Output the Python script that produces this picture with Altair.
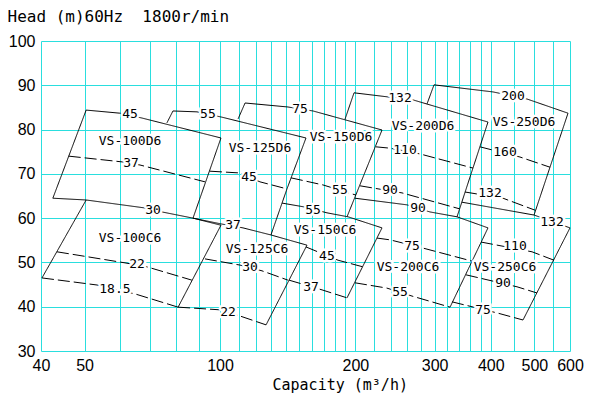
import altair as alt
import pandas as pd

# ---------------- axes ----------------
grid_q = [40, 50, 60, 70, 80, 90, 100, 110, 120, 130, 140, 150, 160, 170, 180, 190, 200,
          220, 240, 260, 280, 300, 320, 340, 360, 380, 400, 450, 500, 550, 600]
label_q = [40, 50, 100, 200, 300, 400, 500, 600]
grid_h = [30, 40, 50, 60, 70, 80, 90, 100]

# ---------------- curves (Q m3/h, H m) ----------------
# VS-100D6 / VS-100C6
vs100d6_top = [(50.4, 84.4), (59.9, 83.7), (67.1, 82.6), (100.5, 78.1)]
vs100d6_left = [(50.4, 84.4), (42.5, 64.5)]
vs100d6_right = [(100.5, 78.1), (87.1, 60.0)]
vs100d6_mid = [(46.1, 74.0), (60.6, 72.7), (66.4, 72.0), (92.6, 68.2)]
vs100_30 = [(42.5, 64.5), (50.4, 64.1), (68.1, 62.3), (74.3, 61.4), (87.1, 60.0), (100.5, 58.4)]
vs100c6_left = [(50.4, 64.1), (40.2, 46.5)]
vs100c6_right = [(100.5, 58.4), (80.7, 39.9)]
vs100c6_mid = [(43.4, 52.4), (61.5, 49.9), (68.8, 49.0), (86.6, 46.0)]
vs100c6_bot = [(40.2, 46.5), (53.3, 44.9), (64.7, 42.9), (80.7, 39.9)]

# VS-125D6 / VS-125C6
vs125d6_top = [(78.6, 84.2), (88.9, 84.0), (101.0, 82.8), (155.3, 78.1)]
vs125d6_left = [(78.6, 84.2), (76.2, 81.5)]
vs125d6_right = [(155.3, 78.1), (140.9, 66.6), (129.8, 56.2)]
vs125d6_mid = [(95.0, 70.6), (110.8, 70.2), (122.7, 68.2), (140.9, 66.6)]
vs125_37 = [(87.1, 60.0), (100.5, 58.7), (112.5, 57.8), (129.8, 56.2), (156.1, 53.9)]
vs125c6_right = [(156.1, 53.9), (126.6, 35.9)]
vs125c6_mid = [(92.6, 50.8), (110.8, 49.4), (124.0, 48.1), (141.6, 46.0)]
vs125c6_bot = [(80.7, 39.9), (100.0, 39.3), (110.8, 37.9), (126.6, 35.9)]

# VS-150D6 / VS-150C6
vs150d6_top = [(113.7, 86.0), (141.6, 85.1), (161.0, 84.2), (229.2, 79.9)]
vs150d6_left = [(113.7, 86.0), (109.7, 82.4)]
vs150d6_right = [(229.2, 79.9), (191.6, 60.3)]
vs150d6_mid = [(143.8, 69.1), (169.4, 67.5), (200.6, 65.2)]
vs150_55 = [(137.4, 63.4), (154.5, 62.5), (172.9, 61.2), (192.6, 60.3), (229.2, 57.8)]
vs150c6_right = [(229.2, 57.8), (191.6, 42.0)]
vs150c6_mid = [(155.3, 53.5), (183.0, 50.5), (207.9, 49.0)]
vs150c6_bot = [(142.4, 46.0), (168.6, 43.8), (191.6, 42.0)]

# VS-200D6 / VS-200C6
vs200d6_top = [(198.6, 88.3), (235.1, 87.4), (268.6, 86.7), (394.3, 81.7)]
vs200d6_left = [(198.6, 88.3), (189.6, 82.3)]
vs200d6_right = [(394.3, 81.7), (336.5, 60.3)]
vs200d6_mid1 = [(222.2, 76.1), (238.8, 75.8), (278.4, 74.5), (365.2, 71.3)]
vs200d6_mid2 = [(204.8, 67.3), (253.9, 65.7), (341.0, 62.1)]
vs200_90 = [(199.6, 64.5), (260.5, 63.0), (293.0, 61.4), (336.5, 60.3), (394.3, 57.8)]
vs200c6_right = [(394.3, 57.8), (324.7, 39.9)]
vs200c6_mid = [(223.4, 55.5), (238.8, 55.1), (281.3, 53.3), (363.3, 50.3)]
vs200c6_bot = [(199.6, 45.4), (235.1, 44.2), (267.3, 42.4), (324.7, 39.9)]

# VS-250D6 / VS-250C6
vs250d6_top = [(299.1, 90.1), (404.6, 88.5), (481.5, 86.9), (593.9, 83.7)]
vs250d6_left = [(299.1, 90.1), (288.6, 85.8)]
vs250d6_right = [(593.9, 83.7), (499.1, 60.7)]
vs250d6_mid1 = [(378.5, 76.1), (464.5, 73.8), (541.6, 71.5)]
vs250d6_mid2 = [(350.5, 65.9), (425.8, 64.5), (501.6, 61.8)]
vs250_132 = [(345.2, 63.6), (499.1, 60.7), (600.0, 57.8)]
vs250c6_right = [(600.0, 57.8), (471.7, 37.0)]
vs250c6_mid1 = [(380.5, 54.6), (494.0, 52.4), (552.8, 50.5)]
vs250c6_mid2 = [(352.4, 47.2), (457.4, 44.5), (506.8, 43.1)]
vs250c6_bot = [(328.0, 41.1), (413.0, 38.6), (471.7, 37.0)]

# ---------------- labels ----------------
model_names = ["VS-100D6", "VS-100C6", "VS-125D6", "VS-125C6", "VS-150D6",
               "VS-150C6", "VS-200D6", "VS-200C6", "VS-250D6", "VS-250C6"]
model_q = [63.1, 63.1, 122.7, 120.9, 185.8, 171.2, 282.7, 261.8, 474.2, 430.2]
model_h = [77.4, 55.5, 75.8, 53.0, 78.3, 57.3, 80.8, 49.0, 81.7, 49.0]

kw_text = ["45", "37", "30", "22", "18.5",
           "55", "45", "37", "30", "22",
           "75", "55", "55", "45", "37",
           "132", "110", "90", "90", "75", "55",
           "200", "160", "132", "132", "110", "90", "75"]
kw_q = [63.1, 63.4, 71.0, 65.4, 58.4,
        94.0, 116.0, 106.9, 116.6, 104.2,
        150.6, 184.8, 161.0, 172.9, 159.4,
        251.3, 257.8, 238.8, 275.6, 267.3, 251.3,
        448.2, 430.2, 398.4, 547.2, 452.8, 425.8, 384.4]
kw_h = [83.5, 72.5, 61.8, 49.6, 44.0,
        83.5, 69.3, 58.4, 49.0, 38.8,
        84.6, 66.4, 61.8, 51.5, 44.5,
        87.1, 75.3, 66.4, 62.3, 53.7, 43.3,
        87.6, 74.9, 65.7, 59.1, 53.7, 45.4, 39.3]

curves = [
    ("vs100d6_top", "solid", vs100d6_top), ("vs100d6_left", "solid", vs100d6_left),
    ("vs100d6_right", "solid", vs100d6_right), ("vs100d6_mid", "dashed", vs100d6_mid),
    ("vs100_30", "solid", vs100_30), ("vs100c6_left", "solid", vs100c6_left),
    ("vs100c6_right", "solid", vs100c6_right), ("vs100c6_mid", "dashed", vs100c6_mid),
    ("vs100c6_bot", "dashed", vs100c6_bot),
    ("vs125d6_top", "solid", vs125d6_top), ("vs125d6_left", "solid", vs125d6_left),
    ("vs125d6_right", "solid", vs125d6_right), ("vs125d6_mid", "dashed", vs125d6_mid),
    ("vs125_37", "solid", vs125_37), ("vs125c6_right", "solid", vs125c6_right),
    ("vs125c6_mid", "dashed", vs125c6_mid), ("vs125c6_bot", "dashed", vs125c6_bot),
    ("vs150d6_top", "solid", vs150d6_top), ("vs150d6_left", "solid", vs150d6_left),
    ("vs150d6_right", "solid", vs150d6_right), ("vs150d6_mid", "dashed", vs150d6_mid),
    ("vs150_55", "solid", vs150_55), ("vs150c6_right", "solid", vs150c6_right),
    ("vs150c6_mid", "dashed", vs150c6_mid), ("vs150c6_bot", "dashed", vs150c6_bot),
    ("vs200d6_top", "solid", vs200d6_top), ("vs200d6_left", "solid", vs200d6_left),
    ("vs200d6_right", "solid", vs200d6_right), ("vs200d6_mid1", "dashed", vs200d6_mid1),
    ("vs200d6_mid2", "dashed", vs200d6_mid2), ("vs200_90", "solid", vs200_90),
    ("vs200c6_right", "solid", vs200c6_right), ("vs200c6_mid", "dashed", vs200c6_mid),
    ("vs200c6_bot", "dashed", vs200c6_bot),
    ("vs250d6_top", "solid", vs250d6_top), ("vs250d6_left", "solid", vs250d6_left),
    ("vs250d6_right", "solid", vs250d6_right), ("vs250d6_mid1", "dashed", vs250d6_mid1),
    ("vs250d6_mid2", "dashed", vs250d6_mid2), ("vs250_132", "solid", vs250_132),
    ("vs250c6_right", "solid", vs250c6_right), ("vs250c6_mid1", "dashed", vs250c6_mid1),
    ("vs250c6_mid2", "dashed", vs250c6_mid2), ("vs250c6_bot", "dashed", vs250c6_bot),
]

rows = []
for name, style, pts in curves:
    for i, (q, h) in enumerate(pts):
        rows.append({"curve": name, "style": style, "i": i, "q": q, "h": h})
lines_df = pd.DataFrame(rows)

labels_df = pd.DataFrame(
    {"t": model_names + kw_text, "q": model_q + kw_q, "h": model_h + kw_h}
)

MONO = "DejaVu Sans Mono"
SANS = "Liberation Sans"
GRID = "#2adede"

label_expr = "indexof([" + ",".join(str(v) for v in label_q) + "], datum.value) >= 0 ? datum.label : ''"

xenc = alt.X(
    "q:Q",
    scale=alt.Scale(type="log", domain=[40, 600], nice=False),
    axis=alt.Axis(
        values=grid_q, labelExpr=label_expr, grid=True, gridColor=GRID, gridOpacity=1,
        gridWidth=1, domain=False, ticks=False, labelFont=SANS, labelFontSize=16,
        labelColor="black", labelPadding=6, labelFlush=False, labelOverlap=False,
        title="Capacity (m\u00b3/h)", titleFont=MONO, titleFontSize=15,
        titleFontWeight="normal", titleColor="black", titleX=231, titleY=38,
        titleAlign="left", titleBaseline="alphabetic",
    ),
)
yenc = alt.Y(
    "h:Q",
    scale=alt.Scale(domain=[30, 100], nice=False, zero=False),
    axis=alt.Axis(
        values=grid_h, grid=True, gridColor=GRID, gridOpacity=1, gridWidth=1,
        domain=False, ticks=False, labelFont=SANS, labelFontSize=16,
        labelColor="black", labelPadding=6, labelOverlap=False,
        title="Head (m)60Hz\u00a0 1800r/min", titleFont=MONO, titleFontSize=16,
        titleFontWeight="normal", titleColor="black", titleAngle=0,
        titleX=-34, titleY=-20, titleAlign="left", titleBaseline="alphabetic",
    ),
)

lines = alt.Chart(lines_df).mark_line(color="black", strokeWidth=1).encode(
    x=xenc, y=yenc, detail="curve:N", order="i:Q",
    strokeDash=alt.StrokeDash(
        "style:N",
        scale=alt.Scale(domain=["solid", "dashed"], range=[[1, 0], [12, 4]]),
        legend=None,
    ),
)

halo = alt.Chart(labels_df).mark_text(
    font=MONO, fontSize=13, fill="white", stroke="white", strokeWidth=5, strokeJoin="round"
).encode(x=xenc, y=yenc, text="t:N")

text = alt.Chart(labels_df).mark_text(
    font=MONO, fontSize=13, color="black"
).encode(x=xenc, y=yenc, text="t:N")

chart = (
    alt.layer(lines, halo, text)
    .properties(
        width=529, height=310,
        autosize=alt.AutoSizeParams(type="none"),
        padding={"left": 33, "top": 33, "right": 16, "bottom": 48},
        background="white",
    )
    .configure_view(strokeWidth=0)
)

chart.save("out.html", embed_options={"renderer": "svg", "actions": False})
